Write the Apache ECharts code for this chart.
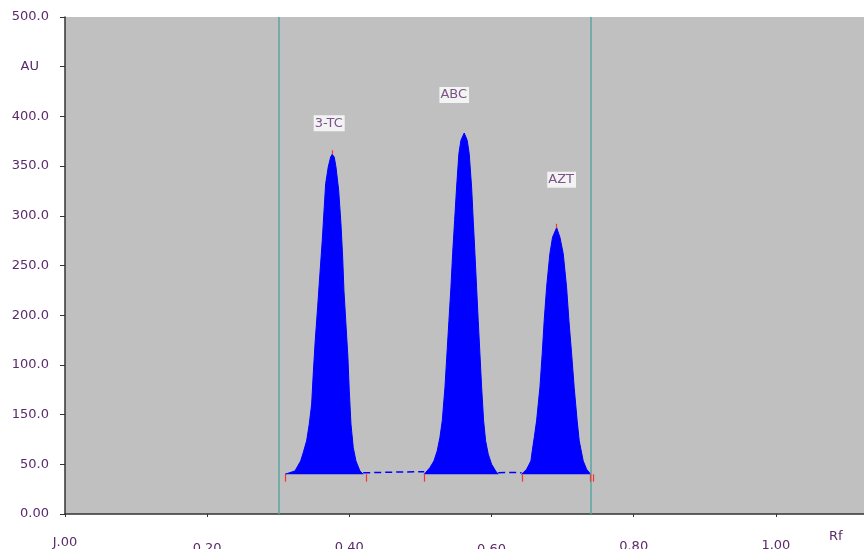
<!DOCTYPE html>
<html>
<head>
<meta charset="utf-8">
<script src="https://cdn.jsdelivr.net/npm/echarts@6/dist/echarts.min.js"></script>
<style>
  html, body { margin: 0; padding: 0; background: #fff; }
  #chart { width: 864px; height: 549px; }
</style>
</head>
<body>
<div id="chart"></div>
<script>
// tick labels (as printed on the scan)
const xTickLabels = ['J.00', '0.20', '0.40', '0.60', '0.80', '1.00']
const yTickLabels = ['0.00', '50.0', '150.0', '100.0', '200.0', '250.0', '300.0', '350.0', '400.0', 'AU', '500.0']

// densitogram trace, one array pair per peak
const tcRf = [0.3094, 0.3118, 0.3235, 0.3315, 0.3352, 0.3399, 0.3436, 0.3470, 0.3492, 0.3520, 0.3554, 0.3586, 0.3619, 0.3647, 0.3667, 0.3703, 0.3737, 0.3759, 0.3788, 0.3812, 0.3850, 0.3882, 0.3906, 0.3924, 0.3952, 0.3980, 0.3999, 0.4023, 0.4055, 0.4093, 0.4149, 0.4195]
const tcAu = [40, 40.5, 43.3, 53.4, 61.8, 73.6, 90.4, 110.6, 140.8, 174.4, 208, 241.6, 275.2, 308.8, 332.3, 349, 359.2, 361.9, 359, 349, 325.6, 292, 258.4, 224.8, 191.2, 157.6, 124, 90.4, 66.8, 53.4, 43.3, 40]

const abcRf = [0.5053, 0.5134, 0.5190, 0.5236, 0.5274, 0.5307, 0.5345, 0.5373, 0.5401, 0.5429, 0.5453, 0.5481, 0.5509, 0.5541, 0.5570, 0.5616, 0.5658, 0.5686, 0.5720, 0.5743, 0.5767, 0.5790, 0.5813, 0.5837, 0.5861, 0.5889, 0.5917, 0.5954, 0.6001, 0.6058, 0.6094]
const abcAu = [40, 46.7, 53.4, 63.5, 76.9, 93.7, 127.3, 161, 194.5, 228.1, 261.8, 295.3, 328.9, 362.6, 376, 383.3, 376, 362.6, 328.9, 295.3, 261.8, 228.1, 194.5, 161, 127.3, 93.7, 73.6, 60.2, 50.1, 43.3, 40]

const aztRf = [0.6423, 0.6494, 0.6554, 0.6573, 0.6601, 0.6634, 0.6681, 0.6713, 0.6741, 0.6775, 0.6821, 0.6859, 0.6916, 0.6962, 0.7009, 0.7056, 0.7089, 0.7127, 0.7163, 0.7205, 0.7234, 0.7290, 0.7338, 0.7394]
const aztAu = [40, 45, 53.4, 63.5, 76.9, 93.7, 127.3, 161, 194.5, 228.1, 261.8, 278.5, 288, 278.5, 261.8, 228.1, 194.5, 161, 127.3, 93.7, 73.6, 53.4, 45, 40]

// noisy baseline between the peaks
const gapRf = [0.4195, 0.4450, 0.4700, 0.5053, null, 0.6094, 0.6250, 0.6423]
const gapAu = [41.5, 41.8, 42.2, 42.5, null, 41.5, 41.8, 41.5]

// peak names and apexes
const peakNames = ['3-TC', 'ABC', 'AZT']
const peakRf = [0.3759, 0.5616, 0.6916]
const peakAu = [361.9, 383.3, 288]

// integration start/end cuts and track limits
const cutRf = [0.3094, 0.4233, 0.5057, 0.6432, 0.7387, 0.7434]
const apexMarkRf = [0.3759, 0.6916]
const apexMarkAu = [361.9, 288]
const trackRf = [0.3048, 0.7441]

const textColor = '#5a2a6a'
const fontFamily = 'DejaVu Sans'
const pairs = (xs, ys) => xs.map((x, i) => [x, ys[i]])

const peakSeries = (name, xs, ys) => ({
  name,
  type: 'line',
  data: pairs(xs, ys),
  symbol: 'none',
  lineStyle: { color: '#0000ff', width: 1 },
  areaStyle: { color: '#0000ff', opacity: 1, origin: 40 },
  z: 3
})

// scanned labels sit a little uneven, mimic with per-label line heights
const xLabelHeights = [30, 42, 40, 44, 38, 36]
const xRich = {}
xLabelHeights.forEach((h, i) => {
  xRich['t' + i] = { color: textColor, fontFamily, fontSize: 13, lineHeight: h }
})

const labelOffsets = [[-3, -31], [-10, -38], [5, -48]]

const chart = echarts.init(document.getElementById('chart'))
chart.setOption({
  animation: false,
  grid: {
    left: 65, right: 0, top: 17, bottom: 35,
    outerBoundsMode: 'none',
    show: true, backgroundColor: '#c0c0c0', borderWidth: 0
  },
  xAxis: {
    type: 'value',
    min: 0, max: 1.124, interval: 0.2,
    axisLine: { show: true, lineStyle: { color: '#333', width: 1.5 } },
    axisTick: { show: true, length: 3, lineStyle: { color: '#333' } },
    splitLine: { show: false },
    axisLabel: {
      margin: 14, color: textColor, fontFamily, fontSize: 13,
      showMaxLabel: false,
      formatter: v => {
        const i = Math.round(v / 0.2)
        if (Math.abs(v - i * 0.2) > 1e-6 || !xTickLabels[i]) return ''
        return '{t' + i + '|' + xTickLabels[i] + '}'
      },
      rich: xRich
    }
  },
  yAxis: {
    type: 'value',
    min: 0, max: 500, interval: 50,
    axisLine: { show: true, lineStyle: { color: '#333', width: 1.5 } },
    axisTick: { show: true, length: 5, lineStyle: { color: '#333' } },
    splitLine: { show: false },
    axisLabel: {
      margin: 16, color: textColor, fontFamily, fontSize: 13,
      formatter: v => {
        const t = yTickLabels[Math.round(v / 50)] || ''
        return t === 'AU' ? '{au|AU}' : t
      },
      rich: { au: { color: textColor, fontFamily, fontSize: 13, padding: [0, 10, 0, 0] } }
    }
  },
  graphic: [{
    type: 'text', left: 829, top: 530,
    style: { text: 'Rf', fill: textColor, font: '13px "DejaVu Sans"' }
  }],
  series: [
    peakSeries('3-TC', tcRf, tcAu),
    peakSeries('ABC', abcRf, abcAu),
    peakSeries('AZT', aztRf, aztAu),
    {
      name: 'baseline',
      type: 'line',
      data: pairs(gapRf, gapAu),
      symbol: 'none',
      connectNulls: false,
      lineStyle: { color: '#0000ff', width: 1.5, type: [7, 4] },
      z: 3,
      markLine: {
        silent: true,
        symbol: ['none', 'none'],
        label: { show: false },
        lineStyle: { color: '#5aa6a0', width: 1.5, type: 'solid' },
        data: trackRf.map(x => ({ xAxis: x }))
      }
    },
    {
      name: 'cuts',
      type: 'line',
      data: [],
      markLine: {
        silent: true,
        symbol: ['none', 'none'],
        label: { show: false },
        lineStyle: { color: '#ff3030', width: 1.2, type: 'solid' },
        data: cutRf.map(x => [{ coord: [x, 40] }, { coord: [x, 32.5] }])
          .concat(apexMarkRf.map((x, i) => [{ coord: [x, apexMarkAu[i]] }, { coord: [x, apexMarkAu[i] + 4] }]))
      },
      z: 4
    },
    {
      name: 'labels',
      type: 'scatter',
      symbolSize: 0,
      data: peakNames.map((n, i) => ({
        value: [peakRf[i], peakAu[i]],
        name: n,
        label: { offset: labelOffsets[i] }
      })),
      label: {
        show: true,
        position: 'inside',
        formatter: p => p.name,
        color: textColor,
        fontFamily, fontSize: 13,
        backgroundColor: '#ffffff',
        padding: [2, 2, 1, 1]
      },
      z: 5
    }
  ]
})
</script>
</body>
</html>
